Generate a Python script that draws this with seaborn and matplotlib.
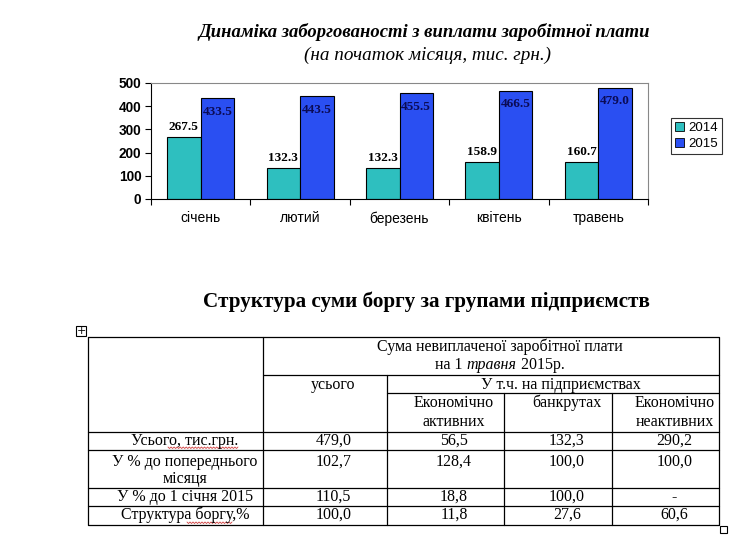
import numpy as np
import pandas as pd
import seaborn as sns
import matplotlib.pyplot as plt
from matplotlib.patches import Patch, Rectangle

# ---- data ----
months = ["січень", "лютий", "березень", "квітень", "травень"]
years = ["2014", "2015"]
debt_2014 = [267.5, 132.3, 132.3, 158.9, 160.7]
debt_2015 = [433.5, 443.5, 455.5, 466.5, 479.0]

row_labels = ["Усього, тис.грн.", "У % до попереднього\nмісяця",
              "У % до 1 січня 2015", "Структура боргу,%"]
col_total = [479.0, 102.7, 110.5, 100.0]
col_active = [56.5, 128.4, 18.8, 11.8]
col_bankrupt = [132.3, 100.0, 100.0, 27.6]
col_inactive = [290.2, 100.0, None, 60.6]

df = pd.DataFrame({
    "month": months * 2,
    "year": [years[0]] * len(months) + [years[1]] * len(months),
    "value": debt_2014 + debt_2015,
})

sns.set_theme(style="white")
plt.rcParams["font.family"] = ["Liberation Sans", "DejaVu Sans"]
plt.rcParams["text.color"] = "black"
plt.rcParams["xtick.color"] = "black"
plt.rcParams["ytick.color"] = "black"

W, H = 750, 544
fig = plt.figure(figsize=(W / 100, H / 100), dpi=100)

teal = "#2EBFBF"
blue = "#2A4FF2"

# ---- bar chart ----
ax = fig.add_axes([151 / W, 1 - 199 / H, (648 - 151) / W, (199 - 83) / H])
sns.barplot(data=df, x="month", y="value", hue="year", palette=[teal, blue],
            width=0.675, gap=0, saturation=1, edgecolor="black", linewidth=0.8,
            legend=False, ax=ax)
ax.set_ylim(0, 500)
ax.set_xlim(-0.5, len(months) - 0.5)
ax.set_yticks(range(0, 501, 100))
ax.set_xlabel("")
ax.set_ylabel("")
ax.set_xticks(np.arange(len(months) + 1) - 0.5, minor=True)
ax.tick_params(axis="x", which="major", length=0, pad=9, labelsize=10)
ax.tick_params(axis="x", which="minor", length=4, width=0.8, color="black",
               direction="out", bottom=True)
ax.tick_params(axis="y", length=4, width=0.8, color="black", direction="out",
               left=True, labelsize=9.8, pad=3)
for lbl in ax.get_yticklabels():
    lbl.set_fontweight("bold")
for side in ["top", "right"]:
    ax.spines[side].set_color("#888888")
    ax.spines[side].set_linewidth(0.8)
for side in ["left", "bottom"]:
    ax.spines[side].set_color("black")
    ax.spines[side].set_linewidth(0.8)

ax.bar_label(ax.containers[0], labels=[f"{v:.1f}" for v in debt_2014],
             padding=3, fontsize=9.5, fontweight="bold",
             family="Liberation Serif", color="black")
ax.bar_label(ax.containers[1], labels=[f"{v:.1f}" for v in debt_2015],
             padding=-14, fontsize=9.5, fontweight="bold",
             family="Liberation Serif", color="#0B0B55")

handles = [Patch(facecolor=teal, edgecolor="black", linewidth=0.6),
           Patch(facecolor=blue, edgecolor="black", linewidth=0.6)]
leg = fig.legend(handles, years, loc="upper left",
                 bbox_to_anchor=(671 / W, 1 - 118 / H), fontsize=9.5,
                 frameon=True, fancybox=False, edgecolor="black",
                 handlelength=0.7, handleheight=0.7, handletextpad=0.3,
                 borderpad=0.3, labelspacing=0.3, borderaxespad=0)
leg.get_frame().set_linewidth(0.8)

# ---- overlay in pixel coords for titles and table ----
ov = fig.add_axes([0, 0, 1, 1], zorder=-1)
ov.set_xlim(0, W)
ov.set_ylim(H, 0)
ov.axis("off")

serif = "Liberation Serif"
ov.text(424, 32, "Динаміка заборгованості з виплати заробітної плати",
        ha="center", va="center", family=serif, style="italic",
        weight="bold", fontsize=13.4)
ov.text(427, 55, "(на початок місяця, тис. грн.)", ha="center", va="center",
        family=serif, style="italic", fontsize=13.8)
ov.text(426, 302, "Структура суми боргу за групами підприємств",
        ha="center", va="center", family=serif, weight="bold", fontsize=15.2)

# table grid
x0, x1, x2, x3, x4, x5 = 88, 263, 387, 504, 612, 719
y0, yh1, yh2, yh3 = 337, 375, 393, 432
row_y = [432, 450, 488, 506, 525]
lk = dict(color="black", lw=0.9)
ov.plot([x0, x5, x5, x0, x0], [y0, y0, row_y[-1], row_y[-1], y0], **lk)
ov.plot([x1, x1], [y0, row_y[-1]], **lk)
ov.plot([x1, x5], [yh1, yh1], **lk)
ov.plot([x2, x2], [yh1, row_y[-1]], **lk)
ov.plot([x2, x5], [yh2, yh2], **lk)
for xv in (x3, x4):
    ov.plot([xv, xv], [yh2, row_y[-1]], **lk)
for yv in row_y[:-1]:
    ov.plot([x0, x5], [yv, yv], **lk)

fs = 11.5
tk = dict(ha="center", va="center", family=serif, fontsize=fs)
ov.text(500, 347, "Сума невиплаченої заробітної плати", **tk)

# second header line with italic month: lay pieces side by side
renderer = fig.canvas.get_renderer()
pieces = [("на 1 ", "normal"), ("травня", "italic"), (" 2015р.", "normal")]
objs = [ov.text(0, 365, s, ha="left", va="center", family=serif,
                fontsize=fs, style=st) for s, st in pieces]
widths = [o.get_window_extent(renderer).width for o in objs]
xcur = 500 - sum(widths) / 2
for o, w in zip(objs, widths):
    o.set_x(xcur)
    xcur += w

ov.text(333.5, 385, "усього", **tk)
ov.text(561, 385, "У т.ч. на підприємствах", **tk)
ov.text(454, 403, "Економічно", **tk)
ov.text(454, 422, "активних", **tk)
ov.text(567, 403, "банкрутах", **tk)
ov.text(674.5, 403, "Економічно", **tk)
ov.text(674.5, 422, "неактивних", **tk)

label_y = [441, 462, 497, 515]
for lab, yv in zip(row_labels, label_y):
    for k, line in enumerate(lab.split("\n")):
        ov.text(185, yv + 17 * k, line, **tk)

col_centers = [333.5, 454, 567, 674.5]
for cx, col in zip(col_centers, [col_total, col_active, col_bankrupt, col_inactive]):
    for v, yv in zip(col, label_y):
        s = "-" if v is None else f"{v:.1f}".replace(".", ",")
        ov.text(cx, yv, s, **tk)

# spell-check squiggles
for xa, xb, yv in [(168, 238, 447), (187, 232, 522)]:
    xs = np.linspace(xa, xb, int((xb - xa) / 1.5) + 1)
    ov.plot(xs, yv + np.where(np.arange(len(xs)) % 2 == 0, 0, 1.5),
            color="#D04040", lw=0.6)

# table handles
ov.add_patch(Rectangle((76, 326), 10, 10, fill=False, ec="black", lw=0.8))
ov.text(81, 331, "+", ha="center", va="center", fontsize=8,
        family="DejaVu Sans")
ov.add_patch(Rectangle((720, 526), 7, 7, fill=False, ec="black", lw=0.8))

fig.savefig("out.png", dpi=100, facecolor="white")
